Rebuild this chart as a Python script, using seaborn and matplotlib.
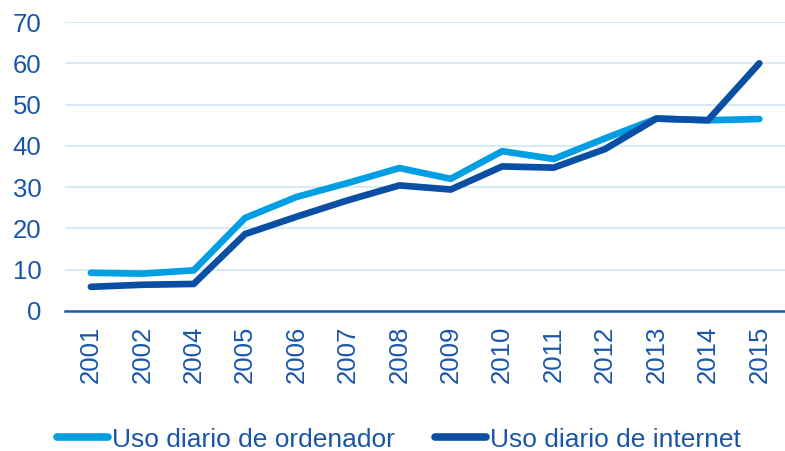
import pandas as pd
import matplotlib.pyplot as plt
import seaborn as sns
from matplotlib.ticker import FixedLocator

# Datos
years = ['2001', '2002', '2004', '2005', '2006', '2007', '2008',
         '2009', '2010', '2011', '2012', '2013', '2014', '2015']
ordenador = [9.2, 9.0, 9.8, 22.5, 27.6, 31.0, 34.6, 32.0, 38.7, 36.8, 41.8, 46.6, 46.2, 46.5]
internet = [5.8, 6.3, 6.5, 18.6, 22.8, 26.8, 30.4, 29.4, 35.0, 34.7, 39.2, 46.6, 46.2, 60.0]
series_names = ['Uso diario de ordenador', 'Uso diario de internet']

df = pd.DataFrame({
    'year': years * 2,
    'value': ordenador + internet,
    'serie': [series_names[0]] * len(years) + [series_names[1]] * len(years),
})

text_color = '#1A56A8'
palette = {series_names[0]: '#009FE3', series_names[1]: '#0A4FA3'}

sns.set_style('white')
plt.rcParams['font.family'] = ['Liberation Sans', 'DejaVu Sans']

fig = plt.figure(figsize=(7.85, 4.51), dpi=100)
ax = fig.add_axes([0.083, 0.311, 0.917, 0.640])

sns.lineplot(data=df, x='year', y='value', hue='serie', palette=palette,
             linewidth=4.8, ax=ax, sort=False, legend=False)
for line in ax.lines:
    line.set_solid_capstyle('round')
    line.set_solid_joinstyle('miter')

ax.set_ylim(0, 70)
ax.set_xlim(-0.5, len(years) - 0.5)
ax.set_yticks(range(0, 71, 10))
ax.yaxis.grid(True, color='#CDE9F7', linewidth=1.2)
ax.set_axisbelow(True)
for s in ['top', 'right', 'left']:
    ax.spines[s].set_visible(False)
ax.spines['bottom'].set_color('#1F5BAA')
ax.spines['bottom'].set_linewidth(1.8)

ax.set_xticks(range(len(years)))
ax.set_xticklabels(years, rotation=90)
ax.xaxis.set_minor_locator(FixedLocator([i - 0.5 for i in range(len(years) + 1)]))
ax.tick_params(axis='x', which='major', length=0, pad=11, labelsize=18.5, colors=text_color)
ax.tick_params(axis='x', which='minor', length=6, width=1.8, color='#1F5BAA', direction='out')
ax.tick_params(axis='y', length=0, pad=17, labelsize=18.5, colors=text_color)
ax.set_xlabel('')
ax.set_ylabel('')

handles = [plt.Line2D([], [], color=palette[n], linewidth=5.5, solid_capstyle='round') for n in series_names]
leg = fig.legend(handles, series_names, loc='center', bbox_to_anchor=(0.508, 0.025),
                 ncol=2, frameon=False, fontsize=19, handlelength=1.95,
                 handletextpad=0.15, columnspacing=1.5)
for t in leg.get_texts():
    t.set_color(text_color)

fig.savefig('out.png', dpi=100)
